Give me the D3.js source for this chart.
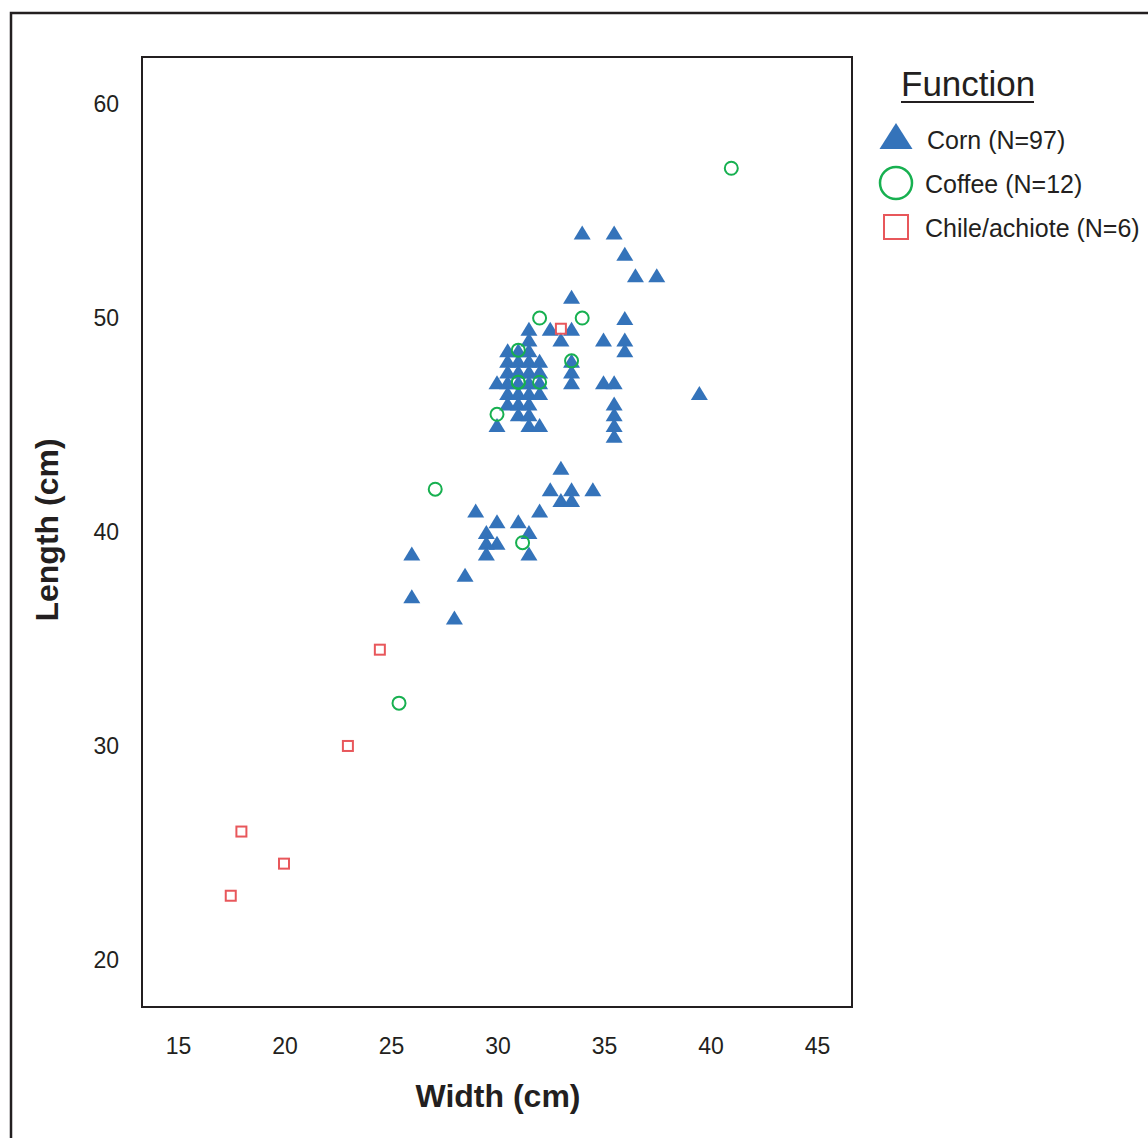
<!DOCTYPE html>
<html>
<head>
<meta charset="utf-8">
<script src="https://cdn.jsdelivr.net/npm/d3@7"></script>
<style>
  body { margin: 0; background: #fff; }
  text { font-family: "Liberation Sans", Arial, sans-serif; fill: #231f20; }
</style>
</head>
<body>
<div id="chart"></div>
<script>
// valores: [largura, comprimento] em cm
const corn = [
  [34,54],[35.5,54],[36,53],[36.5,52],[37.5,52],[33.5,51],[36,50],[35,49],[36,49],[36,48.5],
  [35,47],[35.5,47],[35.5,46],[35.5,45.5],[35.5,45],[35.5,44.5],[39.5,46.5],
  [33.5,48],[33.5,47.5],[33.5,47],[32.5,49.5],[33.5,49.5],[33,49],
  [31.5,49.5],[31.5,49],[30.5,48.5],[31,48.5],[31.5,48.5],[30.5,48],[31,48],[31.5,48],[32,48],
  [30.5,47.5],[31,47.5],[31.5,47.5],[32,47.5],[30,47],[30.5,47],[31,47],[31.5,47],[32,47],
  [30.5,46.5],[31,46.5],[31.5,46.5],[32,46.5],[30.5,46],[31,46],[31.5,46],[31,45.5],[31.5,45.5],
  [30,45],[31.5,45],[32,45],
  [33,43],[32.5,42],[33.5,42],[34.5,42],[33,41.5],[33.5,41.5],[32,41],[29,41],[30,40.5],[31,40.5],
  [29.5,40],[31.5,40],[30,39.5],[29.5,39.5],[29.5,39],[31.5,39],[26,39],[28.5,38],[26,37],[28,36]
];
const coffee = [
  [32,50],[34,50],[31,48.5],[33.5,48],[31,47],[32,47],[30,45.5],[27.1,42],[31.2,39.5],[25.4,32],[41,57],[31,47]
];
const chile = [
  [17.5,23],[18,26],[20,24.5],[23,30],[24.5,34.5],[33,49.5]
];
const xTicks = [15, 20, 25, 30, 35, 40, 45];
const yTicks = [20, 30, 40, 50, 60];
const legendLabels = ["Corn (N=97)", "Coffee (N=12)", "Chile/achiote (N=6)"];

const width = 1148, height = 1138;
const blue = "#3473ba", green = "#17b050", red = "#e8575b";

const svg = d3.select("#chart").append("svg")
    .attr("width", width)
    .attr("height", height);

// moldura externa
svg.append("rect")
    .attr("x", 11).attr("y", 13)
    .attr("width", 1160).attr("height", 1160)
    .attr("fill", "none")
    .attr("stroke", "#231f20")
    .attr("stroke-width", 2.5);

const plot = { left: 142, top: 57, right: 852, bottom: 1007 };

const x = d3.scaleLinear().domain([15 - 5 / 3, 45 + 5 / 3]).range([plot.left, plot.right]);
const y = d3.scaleLinear().domain([17.8, 62.2]).range([plot.bottom, plot.top]);

// rótulos dos eixos (sem marcas)
svg.append("g")
    .selectAll("text")
    .data(xTicks)
    .join("text")
    .attr("x", d => x(d) + 1)
    .attr("y", 1054)
    .attr("text-anchor", "middle")
    .style("font-size", "23px")
    .text(d => d);

svg.append("g")
    .selectAll("text")
    .data(yTicks)
    .join("text")
    .attr("x", 119)
    .attr("y", d => y(d) + 8)
    .attr("text-anchor", "end")
    .style("font-size", "23px")
    .text(d => d);

svg.append("text")
    .attr("x", 498).attr("y", 1107)
    .attr("text-anchor", "middle")
    .style("font-size", "32px")
    .style("font-weight", "bold")
    .text("Width (cm)");

svg.append("text")
    .attr("transform", "translate(58,530) rotate(-90)")
    .attr("text-anchor", "middle")
    .style("font-size", "32px")
    .style("font-weight", "bold")
    .text("Length (cm)");

// pontos
const tri = (w, h) => `M0,${-h / 2}L${w / 2},${h / 2}L${-w / 2},${h / 2}Z`;

const g = svg.append("g");

g.selectAll("path.corn")
    .data(corn)
    .join("path")
    .attr("class", "corn")
    .attr("d", tri(17, 14))
    .attr("transform", d => `translate(${x(d[0])},${y(d[1])})`)
    .attr("fill", blue);

g.selectAll("rect.chile")
    .data(chile)
    .join("rect")
    .attr("class", "chile")
    .attr("x", d => x(d[0]) - 5)
    .attr("y", d => y(d[1]) - 5)
    .attr("width", 10).attr("height", 10)
    .attr("fill", "none")
    .attr("stroke", red)
    .attr("stroke-width", 2);

g.selectAll("circle.coffee")
    .data(coffee)
    .join("circle")
    .attr("class", "coffee")
    .attr("cx", d => x(d[0]))
    .attr("cy", d => y(d[1]))
    .attr("r", 6.5)
    .attr("fill", "none")
    .attr("stroke", green)
    .attr("stroke-width", 2);

// moldura do gráfico
svg.append("rect")
    .attr("x", plot.left).attr("y", plot.top)
    .attr("width", plot.right - plot.left).attr("height", plot.bottom - plot.top)
    .attr("fill", "none")
    .attr("stroke", "#231f20")
    .attr("stroke-width", 2);

// legenda
const leg = svg.append("g");
leg.append("text")
    .attr("x", 901).attr("y", 96)
    .style("font-size", "35px")
    .text("Function");
leg.append("line")
    .attr("x1", 901).attr("x2", 1034)
    .attr("y1", 102).attr("y2", 102)
    .attr("stroke", "#231f20")
    .attr("stroke-width", 2);

leg.append("path")
    .attr("d", tri(33, 26))
    .attr("transform", "translate(896,136)")
    .attr("fill", blue);
leg.append("circle")
    .attr("cx", 896).attr("cy", 183).attr("r", 16)
    .attr("fill", "none")
    .attr("stroke", green)
    .attr("stroke-width", 2.5);
leg.append("rect")
    .attr("x", 884).attr("y", 215).attr("width", 24).attr("height", 24)
    .attr("fill", "none")
    .attr("stroke", red)
    .attr("stroke-width", 2);

leg.selectAll("text.item")
    .data(legendLabels)
    .join("text")
    .attr("class", "item")
    .attr("x", (d, i) => i === 0 ? 927 : 925)
    .attr("y", (d, i) => 149 + i * 44)
    .style("font-size", "25px")
    .text(d => d);
</script>
</body>
</html>
